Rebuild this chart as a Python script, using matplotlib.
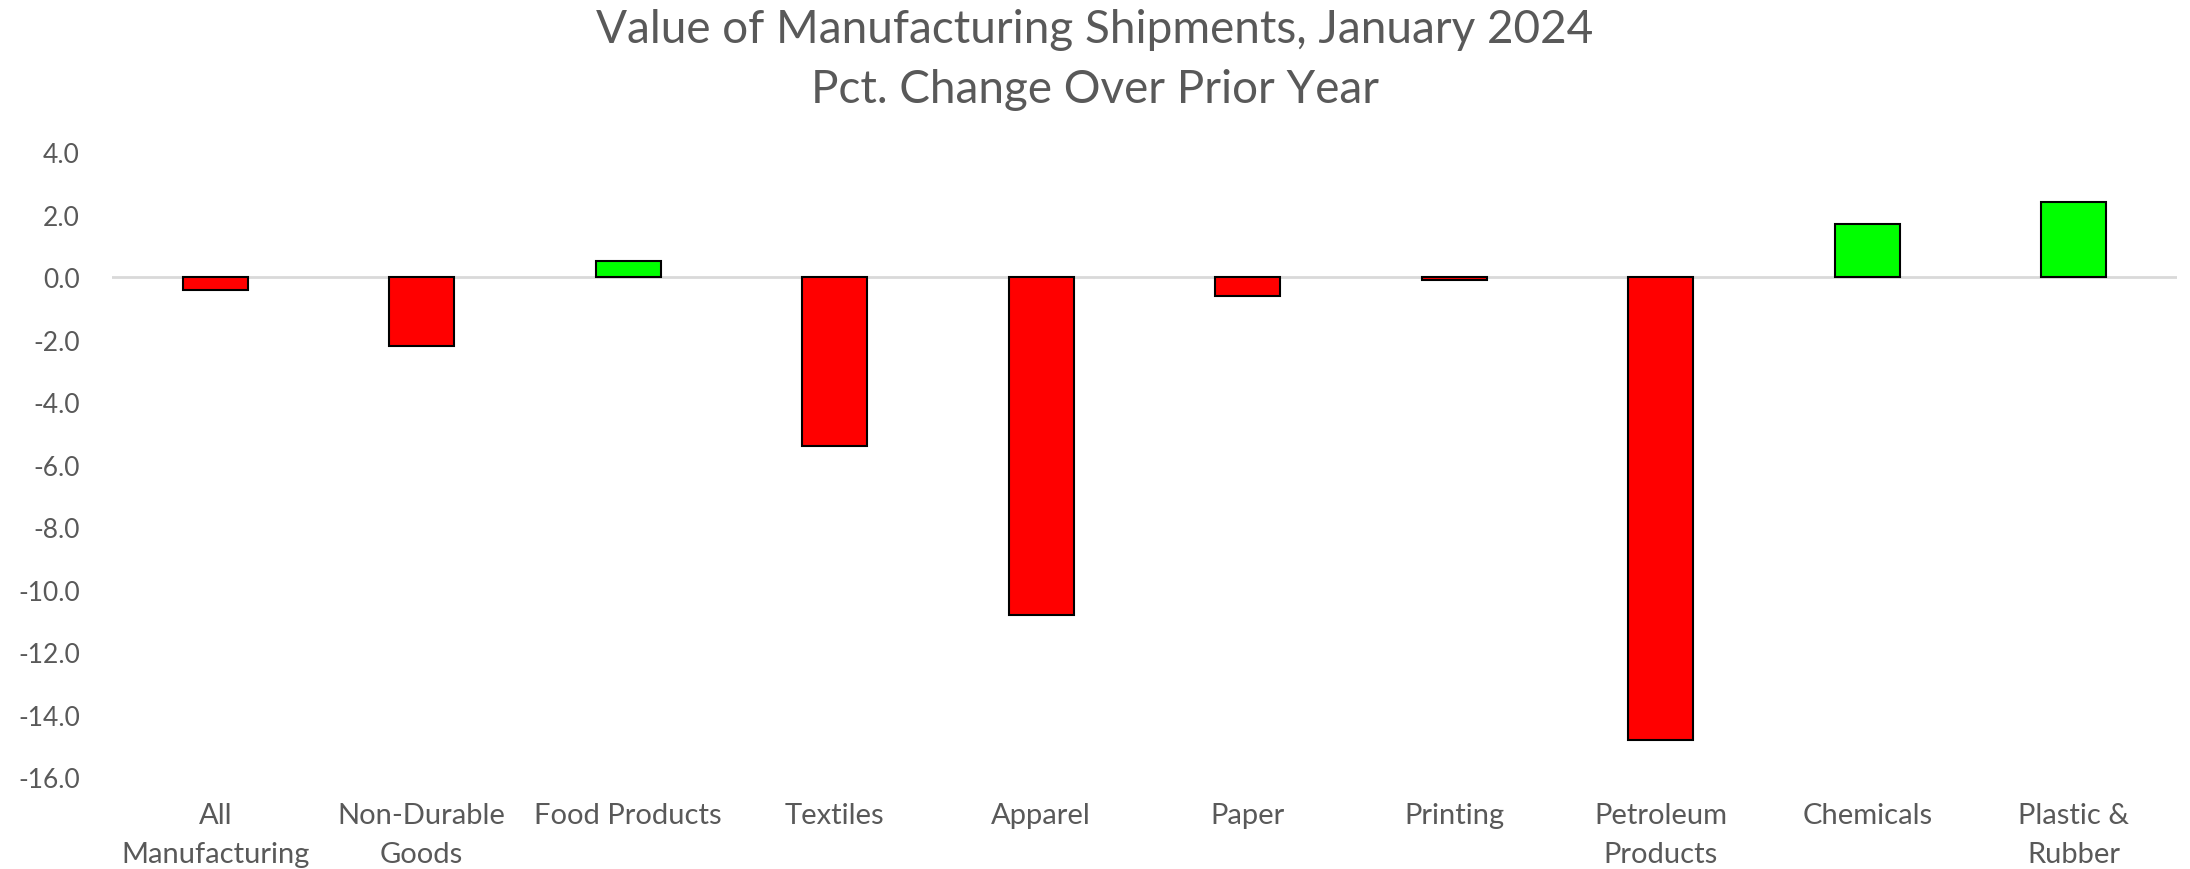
import matplotlib
matplotlib.use("Agg")
import matplotlib.pyplot as plt
import numpy as np

categories = ["All\nManufacturing", "Non-Durable\nGoods", "Food Products", "Textiles",
              "Apparel", "Paper", "Printing", "Petroleum\nProducts", "Chemicals",
              "Plastic &\nRubber"]
pct_change = [-0.4, -2.2, 0.5, -5.4, -10.8, -0.6, -0.1, -14.8, 1.7, 2.4]
y_ticks = [4, 2, 0, -2, -4, -6, -8, -10, -12, -14, -16]

plt.rcParams["font.family"] = ["Lato", "DejaVu Sans"]
text_color = "#595959"

fig = plt.figure(figsize=(21.9, 8.7), dpi=100)
ax = fig.add_axes([0.0511, 0.1057, 0.943, 0.7184])

x = np.arange(len(categories))
colors = ["#00FF00" if v >= 0 else "#FF0000" for v in pct_change]
ax.axhline(0, color="#D9D9D9", lw=2, zorder=1)
ax.bar(x, pct_change, width=0.315, color=colors, edgecolor="black",
       linewidth=1.5, zorder=2)

ax.set_xlim(-0.5, len(categories) - 0.5)
ax.set_ylim(-16, 4)
ax.set_yticks(y_ticks)
ax.set_yticklabels([f"{t:.1f}" for t in y_ticks], fontsize=19, color=text_color)
ax.set_xticks(x)
ax.set_xticklabels(categories, fontsize=21, color=text_color, linespacing=1.6)
ax.tick_params(axis="y", length=0, pad=23)
ax.tick_params(axis="x", length=0, pad=18)
for s in ax.spines.values():
    s.set_visible(False)

fig.text(0.5, 0.966, "Value of Manufacturing Shipments, January 2024",
         ha="center", va="center", fontsize=33, color=text_color)
fig.text(0.5, 0.897, "Pct. Change Over Prior Year",
         ha="center", va="center", fontsize=33, color=text_color)

fig.savefig("out.png", dpi=100, facecolor="white")
